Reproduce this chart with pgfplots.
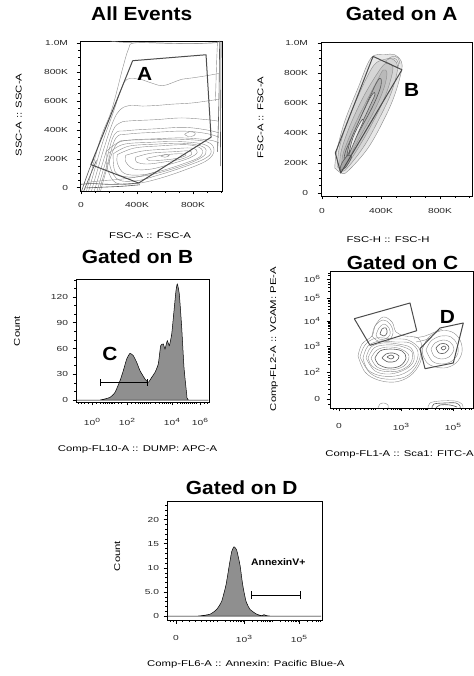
\documentclass[border=0pt]{standalone}
\usepackage{fontspec}
\setmainfont{Liberation Sans}
\newfontfamily\ticfont[FakeStretch=1.4]{Liberation Sans}
\newfontfamily\labfont[FakeStretch=1.35]{Liberation Sans}
\newfontfamily\titfont[FakeStretch=1.1]{Liberation Sans}
\usepackage{pgfplots}
\pgfplotsset{compat=1.18}
\definecolor{cont}{gray}{0.55}
\definecolor{dens}{gray}{0.35}
\definecolor{gate}{gray}{0.3}
\definecolor{histfill}{gray}{0.56}

\pgfplotsset{
  flow/.style={scale only axis, anchor=south west,
    axis line style={line width=0.7pt},
    tick align=outside, tick pos=left,
    major tick length=3.5pt, minor tick length=2pt,
    major tick style={line width=0.9pt,black},
    minor tick style={line width=0.5pt,black},
    ticklabel style={font=\ticfont\fontsize{7.3}{8}\selectfont, text=black!85}},
  ct/.style={cont, line width=0.4pt, smooth, tension=0.6, no markers},
  dn/.style={dens, line width=0.6pt, smooth, tension=0.6, no markers},
  gt/.style={gate, line width=1pt, no markers, line join=round},
  hist/.style={fill=histfill, draw=black, line width=0.5pt, smooth, tension=0.3, no markers},
}
\newcommand\ttl{\titfont\bfseries\fontsize{19}{22}\selectfont}
\newcommand\lab{\labfont\fontsize{8.4}{9}\selectfont}
\newcommand\ex[1]{\raisebox{0.75ex}{\fontsize{6}{6}\selectfont #1}}

\begin{document}
\begin{tikzpicture}
\path[use as bounding box] (0pt,0pt) rectangle (473pt,676pt);

% ---------- All Events ----------
\begin{axis}[flow, at={(80pt,485pt)}, width=142pt, height=150pt,
  xmin=-7, xmax=1007, ymin=-21, ymax=1014,
  xtick={0,400,800}, xticklabels={0,400K,800K},
  minor xtick={100,200,300,500,600,700,900,1000},
  ytick={0,200,400,600,800,1000}, yticklabels={0,200K,400K,600K,800K,1.0M},
  minor ytick={50,100,150,250,300,350,450,500,550,650,700,750,850,900,950},
  xticklabel style={yshift=-4pt}, yticklabel style={xshift=-5pt}]
\addplot[ct] coordinates {(40,-20) (136,331) (219,538) (300,834) (340,960) (380,1000) (600,998) (800,995) (975,1005)};
\addplot[ct] coordinates {(207,1014) (300,1005) (500,1003) (700,998) (943,1000) (990,1014)};
\addplot[ct] coordinates {(55,-20) (150,300) (230,520) (290,690) (330,750) (420,750) (500,725) (580,705) (650,725) (720,750) (800,760) (900,775) (985,790)};
\addplot[ct] coordinates {(75,-20) (160,260) (230,460) (280,540) (350,570) (440,565) (550,570) (650,578) (790,586) (900,600) (985,612)};
\addplot[ct] coordinates {(95,-20) (170,220) (230,400) (280,450) (340,462) (530,471) (720,483) (900,471) (985,460)};
\addplot[ct] coordinates {(115,-20) (180,190) (240,370) (330,395) (550,409) (740,418) (900,400) (985,380)};
\addplot[ct] coordinates {(128,-20) (190,170) (250,345) (340,372) (550,385) (740,392) (900,375) (985,350)};
\addplot[ct] coordinates {(140,-20) (200,180) (260,310) (350,330) (550,340) (730,345) (920,330) (985,310)};
\addplot[ct] coordinates {(180,250) (290,322) (500,333) (700,336) (900,318) (950,260) (900,190) (730,120) (540,60) (390,30) (250,35) (190,130) (180,250)};
\addplot[ct] coordinates {(200,240) (300,300) (500,315) (700,320) (880,300) (930,250) (880,200) (720,140) (540,85) (400,50) (270,55) (210,140) (200,240)};
\addplot[ct] coordinates {(230,235) (340,288) (530,302) (730,308) (870,285) (890,235) (810,185) (650,130) (480,88) (340,75) (245,110) (230,235)};
\addplot[ct] coordinates {(260,230) (380,275) (560,290) (760,298) (860,270) (850,215) (740,170) (580,120) (430,90) (310,100) (260,170) (260,230)};
\addplot[ct] coordinates {(320,225) (440,255) (620,268) (790,275) (830,245) (770,205) (640,165) (500,130) (380,130) (320,180) (320,225)};
\addplot[ct] coordinates {(390,212) (500,240) (660,250) (770,255) (790,232) (720,200) (600,180) (470,165) (395,180) (390,212)};
\addplot[ct] coordinates {(470,205) (580,226) (700,236) (750,226) (690,205) (580,192) (485,190) (470,205)};
\addplot[ct] coordinates {(570,220) (600,230) (630,223) (600,212) (570,220)};
\addplot[ct] coordinates {(740,370) (775,388) (815,380) (805,360) (765,355) (740,370)};
\addplot[dn] coordinates {(0,25) (80,30) (200,25) (330,28) (410,34)};
\addplot[dn] coordinates {(30,0) (150,5) (300,12) (420,22)};
\addplot[ct] coordinates {(60,40) (150,50) (280,60) (420,80) (560,120)};
\addplot[dn] coordinates {(5,-20) (30,50) (60,130) (90,200)};
\addplot[dn] coordinates {(20,-20) (50,50) (80,120) (110,190)};
\addplot[dn] coordinates {(975,250) (985,600) (990,1014)};
\addplot[dn] coordinates {(995,150) (998,600) (1000,1014)};
\addplot[ct] coordinates {(960,600) (968,850) (975,1014)};
\addplot[gt] coordinates {(369,878) (893,919) (929,350) (412,34) (71,161) (369,878)};
\node[font=\ttl] at (axis cs:455,786) {A};
\end{axis}

% ---------- Gated on A ----------
\begin{axis}[flow, at={(321pt,480pt)}, width=151pt, height=154pt,
  xmin=-7, xmax=1017, ymin=-20, ymax=1007,
  xtick={0,400,800}, xticklabels={0,400K,800K},
  minor xtick={100,200,300,500,600,700,900,1000},
  ytick={0,200,400,600,800,1000}, yticklabels={0,200K,400K,600K,800K,1.0M},
  minor ytick={50,100,150,250,300,350,450,500,550,650,700,750,850,900,950},
  xticklabel style={yshift=-5pt}, yticklabel style={xshift=-6pt}]
\addplot[ct, fill=gray!18] coordinates {(86,167) (131,133) (176,147) (312,300) (425,500) (493,655) (538,811) (538,878) (493,922) (425,922) (332,900) (244,700) (154,478) (100,280) (86,167)};
\addplot[ct, fill=gray!32] coordinates {(105,175) (135,150) (170,165) (290,320) (400,520) (470,670) (510,810) (505,870) (470,895) (420,890) (350,850) (260,680) (170,470) (115,290) (105,175)};
\addplot[ct, fill=gray!45] coordinates {(120,185) (140,165) (165,180) (270,340) (380,540) (445,690) (480,820) (465,860) (425,860) (370,790) (280,640) (190,450) (130,280) (120,185)};
\addplot[ct, fill=gray!55] coordinates {(135,200) (155,185) (250,360) (360,560) (420,700) (440,800) (415,820) (380,760) (300,610) (210,430) (145,270) (135,200)};
\addplot[dn, fill=gray!60] coordinates {(150,210) (230,370) (340,570) (395,700) (400,760) (375,745) (310,610) (230,430) (160,280) (150,210)};
\addplot[dn, fill=gray!40] coordinates {(165,230) (240,400) (320,570) (360,660) (335,650) (260,500) (190,340) (165,230)};
\addplot[dn, fill=gray!10] coordinates {(180,250) (240,390) (280,480) (265,480) (210,370) (180,250)};
\addplot[dn, fill=gray!70] coordinates {(120,150) (160,170) (200,240) (175,250) (135,200) (120,150)};
\addplot[ct] coordinates {(430,880) (470,900) (505,890) (520,850) (500,840) (460,860) (430,880)};
\addplot[ct] coordinates {(450,895) (480,912) (515,900) (528,860)};
\addplot[gt] coordinates {(346,911) (542,822) (127,133) (90,267) (346,911)};
\node[font=\ttl] at (axis cs:608,687) {B};
\end{axis}

% ---------- Gated on B ----------
\begin{axis}[flow, at={(76pt,274pt)}, width=133pt, height=123pt,
  xmin=0, xmax=133, ymin=-2.3, ymax=141,
  xtick={16,51,96,124},
  xticklabels={10\ex{0},10\ex{2},10\ex{4},10\ex{6}},
  minor xtick={2,5,8,12,20,24,27,29,31,33,35,36,38,42,45,55,59,62,64,66,68,70,72,74,79,83,86,88,90,92,94,101,104,106,108,110,112,114,116,118,120,128,131},
  ytick={0,30,60,90,120}, yticklabels={0,30,60,90,120},
  minor ytick={10,20,40,50,70,80,100,110,130,140},
  xticklabel style={yshift=-9pt}, yticklabel style={xshift=-1pt}]
\addplot[hist] coordinates {(0.7,0) (24,0) (27.3,0.8) (34,3.1) (39,8.9) (44,22.5) (47.3,34.2) (50.7,47.8) (54,54.4) (57.3,51.7) (60.7,43.9) (64,34.2) (69,24.5) (72.3,20.6) (75.7,26.4) (79,32.2) (82.3,42) (84.7,63.3) (87.3,65.3) (89,59.4) (91.3,69.1) (93.3,63.3) (95.7,76.9) (98,104) (100,127.5) (101.3,135.2) (103.3,123.5) (105.7,84.7) (108,38) (110.7,7) (112.3,0) (132.3,0)} \closedcycle;
\addplot[black, line width=0.8pt, no markers, arrows={|-|}] coordinates {(24,20.6) (71.7,20.6)};
\node[font=\ttl] at (axis cs:34,53.6) {C};
\end{axis}

% ---------- Gated on C ----------
\begin{axis}[flow, at={(330pt,268pt)}, width=143pt, height=137pt,
  xmin=0, xmax=143, ymin=0, ymax=137,
  xtick={9,71,123}, xticklabels={0,10\ex{3},10\ex{5}},
  minor xtick={3,6,15,20,25,30,34,38,41,43,45,53,57,61,63,65,67,69,70,79,83,87,89,91,93,95,96,97,105,109,113,115,117,119,121,122,131,135,139,141},
  ytick={9,36,62,87,110,129},
  yticklabels={0,10\ex{2},10\ex{3},10\ex{4},10\ex{5},10\ex{6}},
  minor ytick={4,14,19,24,28,31,33,44,48,51,54,56,57,59,60,70,74,77,80,82,83,85,86,95,99,102,105,107,108,117,121,124,126,133,135},
  xticklabel style={yshift=-8pt}, yticklabel style={xshift=-3pt}]
\addplot[ct] coordinates {(28,52) (32,64) (42,72) (45,82) (53,91) (62,86) (66,76) (75,72) (88,70) (92,60) (90,45) (80,32) (65,26) (48,28) (35,36) (28,52)};
\addplot[ct] coordinates {(30,51) (35,63) (46,70) (62,69) (78,68) (90,58) (87,43) (75,31) (55,29) (40,35) (30,51)};
\addplot[ct] coordinates {(33,50) (38,62) (50,67) (65,66) (80,65) (88,56) (84,42) (70,33) (52,32) (38,38) (33,50)};
\addplot[ct] coordinates {(36,50) (41,61) (53,65) (68,64) (81,60) (84,48) (76,39) (60,34) (45,37) (36,50)};
\addplot[ct] coordinates {(38,50) (44,60) (55,63) (70,62) (82,56) (80,44) (68,37) (52,37) (42,42) (38,50)};
\addplot[ct] coordinates {(41,50) (47,58) (58,61) (71,59) (79,52) (74,42) (60,38) (47,41) (41,50)};
\addplot[dn] coordinates {(45,50) (50,57) (60,59) (72,57) (76,50) (70,42) (58,40) (48,44) (45,50)};
\addplot[dn] coordinates {(52,50) (56,54) (63,55) (69,52) (66,47) (58,46) (52,50)};
\addplot[dn] coordinates {(57,51) (61,53) (64,51) (61,49) (57,51)};
\addplot[ct] coordinates {(42,72) (45,82) (53,88) (60,84) (63,75) (58,67) (48,67) (42,72)};
\addplot[ct] coordinates {(46,73) (49,80) (54,84) (59,80) (60,73) (55,69) (49,69) (46,73)};
\addplot[dn] coordinates {(50,74) (52,79) (56,80) (57,75) (54,72) (50,74)};
\addplot[ct] coordinates {(92,58) (98,70) (110,77) (122,76) (130,68) (132,56) (126,45) (114,40) (100,43) (94,50) (92,58)};
\addplot[ct] coordinates {(96,58) (101,67) (111,72) (121,71) (127,64) (128,55) (122,47) (112,44) (102,47) (96,58)};
\addplot[ct] coordinates {(101,59) (105,65) (113,68) (120,66) (124,59) (119,51) (111,49) (104,52) (101,59)};
\addplot[dn] coordinates {(106,60) (110,64) (116,64) (119,60) (115,55) (109,55) (106,60)};
\addplot[dn] coordinates {(111,60) (114,62) (116,60) (113,58) (111,60)};
\addplot[ct] coordinates {(84,70) (95,72) (105,76) (112,79)};
\addplot[ct] coordinates {(86,66) (95,68) (100,70)};
\addplot[ct] coordinates {(98,0) (100,5) (110,7) (125,7) (132,4) (133,0)};
\addplot[dn] coordinates {(102,0) (104,4) (115,5) (126,5) (130,2) (130,0)};
\addplot[dn] coordinates {(106,0) (110,3) (120,3) (127,1)};
\addplot[ct] coordinates {(48,0) (50,4) (54,5) (58,3) (58,0)};
\addplot[gt] coordinates {(24.3,89.3) (80,105) (86.7,77.3) (40,62.7) (24.3,89.3)};
\addplot[gt] coordinates {(90,59.3) (110,80) (133.3,85) (123.3,45) (95,39.3) (90,59.3)};
\node[font=\ttl] at (axis cs:117.3,90.7) {D};
\end{axis}

% ---------- Gated on D ----------
\begin{axis}[flow, at={(167pt,56pt)}, width=155pt, height=119pt,
  xmin=0, xmax=155, ymin=-0.8, ymax=23.9,
  xtick={9,77,132}, xticklabels={0,10\ex{3},10\ex{5}},
  minor xtick={3,6,15,22,28,34,39,43,46,50,58,63,66,69,71,73,74,76,85,90,94,96,98,100,102,103,105,113,118,121,124,126,128,129,131,140,145,149,151,153},
  ytick={0,5,10,15,20}, yticklabels={0,5.0,10,15,20},
  minor ytick={1,2,3,4,6,7,8,9,11,12,13,14,16,17,18,19,21,22,23},
  xticklabel style={yshift=-8pt}, yticklabel style={xshift=-1pt}]
\addplot[hist] coordinates {(1,0) (29.7,0) (43,0.4) (49.7,1.4) (54.7,3.1) (59,6.5) (62.3,10.6) (64.7,13.4) (67,14.4) (69.7,13.7) (73,10.6) (75.7,6.5) (79,3.1) (83,1.4) (89.7,0.4) (94.7,0.1) (97,0.3) (99.7,0.1) (106.3,0) (154,0)} \closedcycle;
\addplot[black, line width=0.8pt, no markers, arrows={|-|}] coordinates {(83.7,4.4) (133.7,4.4)};
\node[font=\titfont\bfseries\fontsize{9.5}{11}\selectfont] at (axis cs:111.3,11.3) {AnnexinV+};
\end{axis}

% ---------- titles and axis labels ----------
\node[font=\ttl, anchor=base] at (141.7pt,655.3pt) {All Events};
\node[font=\ttl, anchor=base] at (401.7pt,655.3pt) {Gated on A};
\node[font=\ttl, anchor=base] at (137.5pt,412pt) {Gated on B};
\node[font=\ttl, anchor=base] at (402.5pt,406.7pt) {Gated on C};
\node[font=\ttl, anchor=base] at (241.7pt,181pt) {Gated on D};

\node[font=\lab, anchor=base] at (150pt,437.7pt) {FSC-A :: FSC-A};
\node[font=\lab, anchor=base, rotate=90] at (21.7pt,561pt) {SSC-A :: SSC-A};
\node[font=\lab, anchor=base] at (388pt,433pt) {FSC-H :: FSC-H};
\node[font=\lab, anchor=base, rotate=90] at (263.3pt,558.5pt) {FSC-A :: FSC-A};
\node[font=\lab, anchor=base] at (137.5pt,224.3pt) {Comp-FL10-A :: DUMP: APC-A};
\node[font=\lab, anchor=base, rotate=90] at (20pt,345pt) {Count};
\node[font=\lab, anchor=base] at (399.5pt,219.3pt) {Comp-FL1-A :: Sca1: FITC-A};
\node[font=\lab, anchor=base, rotate=90] at (276pt,337pt) {Comp-FL2-A :: VCAM: PE-A};
\node[font=\lab, anchor=base] at (245.8pt,9.3pt) {Comp-FL6-A :: Annexin: Pacific Blue-A};
\node[font=\lab, anchor=base, rotate=90] at (120pt,120pt) {Count};
\end{tikzpicture}
\end{document}
